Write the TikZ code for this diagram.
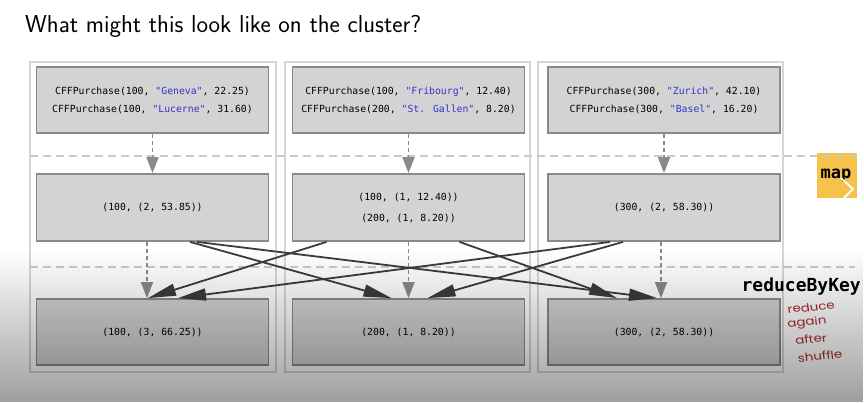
\documentclass[tikz,border=0pt]{standalone}
\usepackage{fontspec}
\newfontfamily\codefont{DejaVu Sans Mono}
\newfontfamily\handfont{Poppins}
\usetikzlibrary{arrows.meta,fadings}
\definecolor{boxfill}{HTML}{D3D3D3}
\definecolor{boxline}{HTML}{8A8A8A}
\definecolor{colline}{HTML}{D6D6D6}
\definecolor{dashgray}{HTML}{CACACA}
\definecolor{arrowgray}{HTML}{8A8A8A}
\definecolor{darkarrow}{HTML}{3C3C3C}
\definecolor{strblue}{HTML}{3434C8}
\definecolor{mapyellow}{HTML}{F5C34A}
\definecolor{handred}{HTML}{A8282A}
\tikzfading[name=fadedown, top color=transparent!100, bottom color=transparent!0]
\begin{document}
\begin{tikzpicture}[x=1pt,y=-1pt,
  databox/.style={draw=boxline, fill=boxfill, line width=1.8pt, minimum width=232pt,
    minimum height=66pt, align=center, inner sep=0pt,
    font=\codefont\fontsize{9.8}{18}\selectfont},
  colbox/.style={draw=colline, line width=2pt},
  sepline/.style={draw=dashgray, line width=2pt, dash pattern=on 8pt off 5pt},
  mapflow/.style={draw=arrowgray, line width=1.8pt, dash pattern=on 4pt off 3pt,
    -{Triangle[length=16pt,width=12pt]}},
  shuffle/.style={draw=darkarrow, line width=1.8pt, -{Triangle[length=28pt,width=12pt]}},
]
\useasboundingbox (0,0) rectangle (864,402);
\fill[white] (0,0) rectangle (864,402);

% title
\node[anchor=base west, inner sep=0pt, font=\sffamily\fontsize{24.5}{28}\selectfont] (title) at (25,32)
  {What might this look like on the cluster?};

% columns
\draw[colbox] (30,62) rectangle (276,372);
\draw[colbox] (285,62) rectangle (530,372);
\draw[colbox] (538,62) rectangle (783,372);

% map tag
\fill[mapyellow] (817,153) rectangle (857,198);
\node[anchor=base, inner sep=0pt, font=\codefont\bfseries\fontsize{17}{18}\selectfont] (maptag) at (836,178) {map};

% separators
\draw[sepline] (30,156) -- (858,156);
\draw[sepline] (30,267) -- (855,267);

\draw[white, line width=1.8pt] (841,178) -- (853,189) -- (840,202);

% top boxes
\node[databox] (t1) at (152.5,100) {CFFPurchase(100, \textcolor{strblue}{"Geneva"}, 22.25)\\CFFPurchase(100, \textcolor{strblue}{"Lucerne"}, 31.60)};
\node[databox] (t2) at (408.5,100) {CFFPurchase(100, \textcolor{strblue}{"Fribourg"}, 12.40)\\CFFPurchase(200, \textcolor{strblue}{"St. Gallen"}, 8.20)};
\node[databox] (t3) at (664,100) {CFFPurchase(300, \textcolor{strblue}{"Zurich"}, 42.10)\\CFFPurchase(300, \textcolor{strblue}{"Basel"}, 16.20)};

% middle boxes
\node[databox, minimum height=67pt] (m1) at (152.5,207.5) {(100, (2, 53.85))};
\node[databox, minimum height=67pt, font=\codefont\fontsize{9.8}{21}\selectfont] (m2) at (408.5,207.5) {(100, (1, 12.40))\\(200, (1, 8.20))};
\node[databox, minimum height=67pt] (m3) at (664,207.5) {(300, (2, 58.30))};

% bottom boxes
\node[databox] (b1) at (152.5,332) {(100, (3, 66.25))};
\node[databox] (b2) at (408.5,332) {(200, (1, 8.20))};
\node[databox] (b3) at (664,332) {(300, (2, 58.30))};

% map arrows
\draw[mapflow] (t1.south) -- (m1.north);
\draw[mapflow] (t2.south) -- (m2.north);
\draw[mapflow] (t3.south) -- (m3.north);

\draw[mapflow] ([xshift=-5.5pt]m1.south) -- ([xshift=-5.5pt]b1.north);
\draw[mapflow] (m2.south) -- (b2.north);
\draw[mapflow] ([xshift=-3pt]m3.south) -- ([xshift=-3pt]b3.north);

% shuffle arrows
\draw[shuffle] ([xshift=37.5pt]m1.south) -- ([xshift=-17pt]b2.north);
\draw[shuffle] ([xshift=44.5pt]m1.south) -- ([xshift=-7pt]b3.north);
\draw[shuffle] ([xshift=-82pt]m2.south) -- ([xshift=-4.5pt]b1.north);
\draw[shuffle] ([xshift=51pt]m2.south) -- ([xshift=-47pt]b3.north);
\draw[shuffle] ([xshift=-54pt]m3.south) -- ([xshift=25.5pt]b1.north);
\draw[shuffle] ([xshift=-41pt]m3.south) -- ([xshift=19pt]b2.north);

% labels on the right
\node[anchor=base east, inner sep=0pt, font=\codefont\bfseries\fontsize{18}{20}\selectfont] (rbk) at (861,291) {reduceByKey};
\begin{scope}[every node/.style={inner sep=0pt, text=handred, xscale=1.22, font=\handfont\fontsize{11}{12}\selectfont}]
\node[rotate=7] (h1) at (811,307) {reduce};
\node[rotate=6] (h2) at (807,323) {again};
\node[rotate=6] (h3) at (811,339) {after};
\node[rotate=6] (h4) at (820,356) {shuffle};
\end{scope}

% bottom overlay
\fill[black, opacity=0.38, path fading=fadedown] (0,250) rectangle (864,402);
\end{tikzpicture}
\end{document}
